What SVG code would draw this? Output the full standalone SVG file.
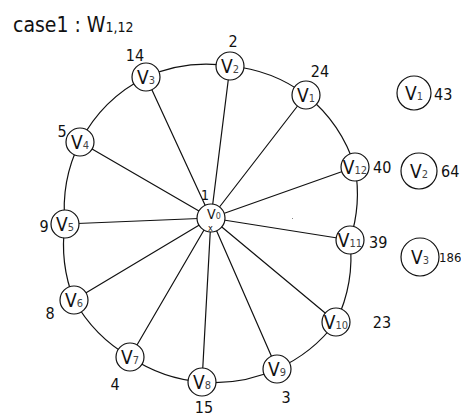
<svg xmlns="http://www.w3.org/2000/svg" width="461" height="417" viewBox="0 0 461 417">
<style>
text{font-family:"DejaVu Sans Condensed","DejaVu Sans",sans-serif;font-stretch:condensed;fill:#111}
.n{fill:#fff;stroke:#111;stroke-width:1.2}
.e{stroke:#111;stroke-width:1.2;fill:none}
.v{font-size:19px;text-anchor:middle}
.s{font-size:11px;fill:#444}
.l{font-size:16px}
.c{text-anchor:middle}
</style>
<rect width="461" height="417" fill="#fff"/>
<text x="13" y="32" style="font-size:21px">case1 : W<tspan style="font-size:14px">1,12</tspan></text>
<g id="connectors">
<path class="e" d="M230,66 A150,150 0 0 1 306,95 A150,150 0 0 1 355,167 A150,150 0 0 1 350,240 A150,150 0 0 1 336,322 A150,150 0 0 1 277,369 A150,150 0 0 1 202,382 A150,150 0 0 1 130,357 A150,150 0 0 1 74,300 A150,150 0 0 1 65,224 A150,150 0 0 1 80,142 A150,150 0 0 1 146,77 A150,150 0 0 1 230,66 Z"/>
<path class="e" d="M211,218 L230,66 M211,218 L306,95 M211,218 L355,167 M211,218 L350,240 M211,218 L336,322 M211,218 L277,369 M211,218 L202,382 M211,218 L130,357 M211,218 L74,300 M211,218 L65,224 M211,218 L80,142 M211,218 L146,77"/>
</g>
<rect x="292" y="218" width="1" height="1" fill="#888"/>
<g id="v0"><circle class="n" cx="211" cy="218" r="14"/><text x="207" y="219" style="font-size:14px">V<tspan class="s" style="font-size:9px">0</tspan></text><text x="208" y="231" style="font-size:9px">x</text><text class="l c" x="205" y="200" style="font-size:14px">1</text></g>
<g id="v1"><circle class="n" cx="306" cy="95" r="14"/><text class="v" x="306" y="102">V<tspan class="s">1</tspan></text><text class="l c" x="320" y="77">24</text></g>
<g id="v2"><circle class="n" cx="230" cy="66" r="14"/><text class="v" x="230" y="73">V<tspan class="s">2</tspan></text><text class="l c" x="233" y="47">2</text></g>
<g id="v3"><circle class="n" cx="146" cy="77" r="14"/><text class="v" x="146" y="84">V<tspan class="s">3</tspan></text><text class="l c" x="135" y="61">14</text></g>
<g id="v4"><circle class="n" cx="80" cy="142" r="14"/><text class="v" x="80" y="149">V<tspan class="s">4</tspan></text><text class="l c" x="62" y="137">5</text></g>
<g id="v5"><circle class="n" cx="65" cy="224" r="14"/><text class="v" x="65" y="231">V<tspan class="s">5</tspan></text><text class="l c" x="44" y="232">9</text></g>
<g id="v6"><circle class="n" cx="74" cy="300" r="14"/><text class="v" x="74" y="307">V<tspan class="s">6</tspan></text><text class="l c" x="50" y="319">8</text></g>
<g id="v7"><circle class="n" cx="130" cy="357" r="14"/><text class="v" x="130" y="364">V<tspan class="s">7</tspan></text><text class="l c" x="115" y="390">4</text></g>
<g id="v8"><circle class="n" cx="202" cy="382" r="14"/><text class="v" x="202" y="389">V<tspan class="s">8</tspan></text><text class="l c" x="204" y="413">15</text></g>
<g id="v9"><circle class="n" cx="277" cy="369" r="14"/><text class="v" x="277" y="376">V<tspan class="s">9</tspan></text><text class="l c" x="286" y="403">3</text></g>
<g id="v10"><circle class="n" cx="336" cy="322" r="14"/><text class="v" x="336" y="329">V<tspan class="s">10</tspan></text><text class="l c" x="382" y="328">23</text></g>
<g id="v11"><circle class="n" cx="350" cy="240" r="14"/><text class="v" x="350" y="247">V<tspan class="s">11</tspan></text><text class="l" x="369" y="248">39</text></g>
<g id="v12"><circle class="n" cx="355" cy="167" r="14"/><text class="v" x="355" y="174">V<tspan class="s">12</tspan></text><text class="l" x="373" y="173">40</text></g>
<g id="s1"><circle class="n" cx="414" cy="93" r="17"/><text class="v" x="414" y="100">V<tspan class="s">1</tspan></text><text class="l" x="434" y="100">43</text></g>
<g id="s2"><circle class="n" cx="419" cy="171" r="18"/><text class="v" x="419" y="178">V<tspan class="s">2</tspan></text><text class="l" x="441" y="177">64</text></g>
<g id="s3"><circle class="n" cx="420" cy="257" r="19"/><text class="v" x="420" y="264">V<tspan class="s">3</tspan></text><text class="l" x="439" y="262" style="font-size:13px">186</text></g>
</svg>
